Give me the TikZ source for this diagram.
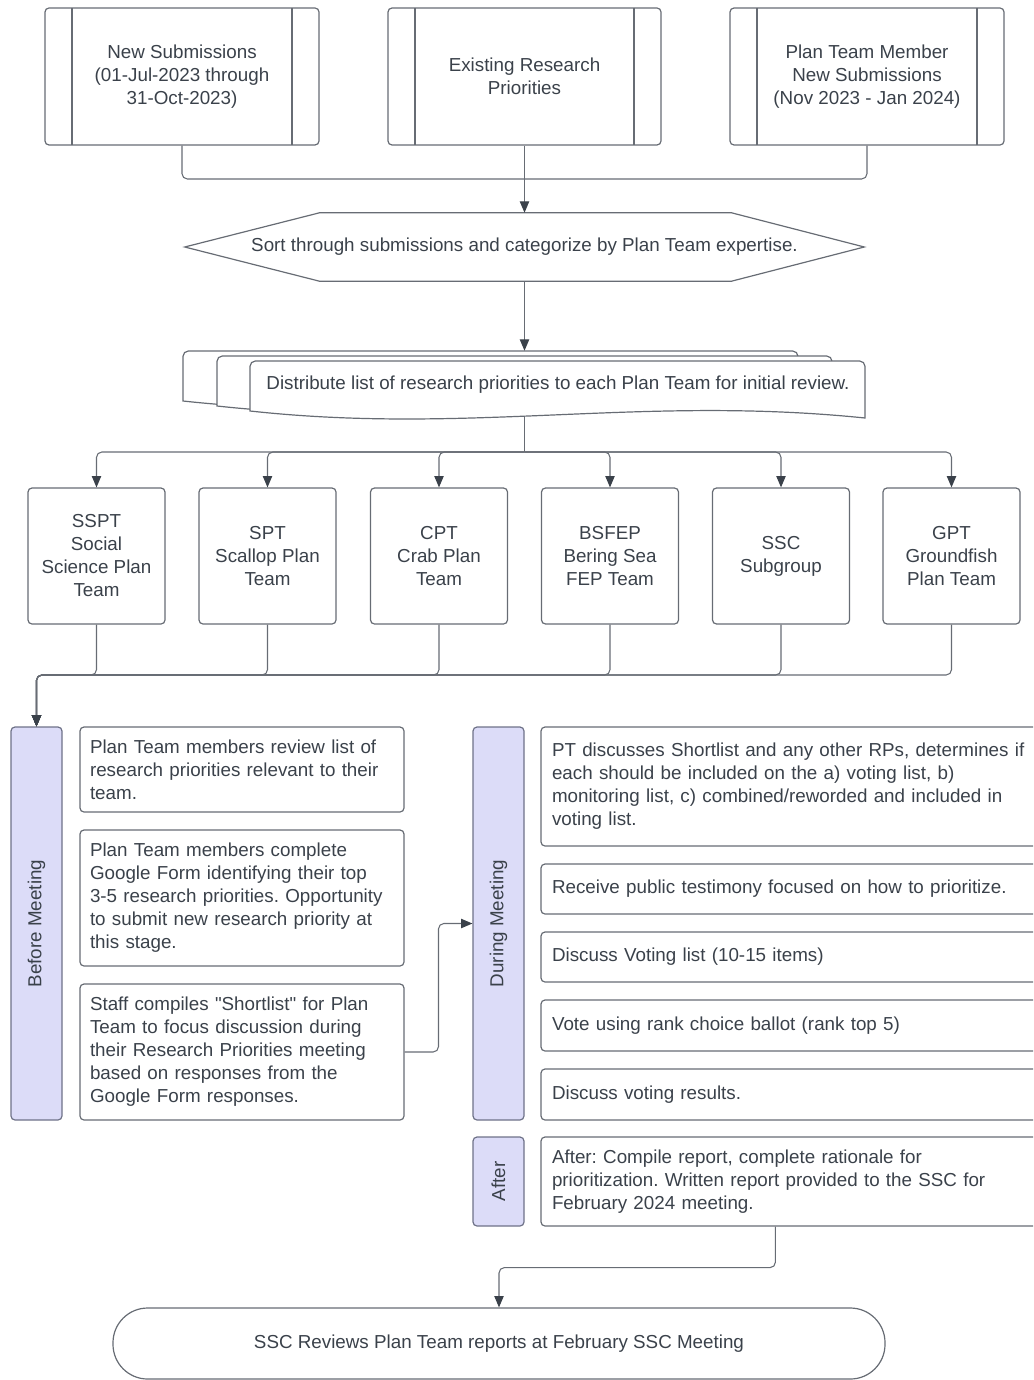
\documentclass[tikz,border=0pt]{standalone}
\usepackage{fontspec}
\setmainfont{Liberation Sans}
\usetikzlibrary{arrows.meta,calc}
\frenchspacing

\definecolor{inkcol}{HTML}{3A414A}
\definecolor{edgecol}{HTML}{676C74}
\definecolor{lavender}{HTML}{DCDCF8}
\definecolor{laveredge}{HTML}{6E7288}

\tikzset{
  every node/.style={font=\fontsize{14.1}{17.25}\selectfont, text=inkcol},
  shapeline/.style={draw=edgecol, line width=0.9pt},
  srcbox/.style={shapeline, rounded corners=3pt, minimum width=205.5pt,
    minimum height=102.75pt, align=center,
    path picture={\draw[edgecol, line width=0.9pt]
      ([xshift=20.25pt]path picture bounding box.north west) -- ([xshift=20.25pt]path picture bounding box.south west)
      ([xshift=-20.25pt]path picture bounding box.north east) -- ([xshift=-20.25pt]path picture bounding box.south east);}},
  teambox/.style={shapeline, rounded corners=3pt, minimum width=102.75pt,
    minimum height=102pt, align=center},
  leftnote/.style={shapeline, rounded corners=3pt, align=left,
    text width=228pt, inner xsep=7.5pt},
  rightnote/.style={shapeline, rounded corners=3pt, align=left,
    text width=361.5pt, inner xsep=8.25pt},
  phasebar/.style={draw=laveredge, line width=0.9pt, fill=lavender,
    rounded corners=3pt, minimum width=38.25pt},
  phaselabel/.style={rotate=90, text=inkcol},
  endcap/.style={shapeline, rounded corners=26pt, minimum width=579pt,
    minimum height=53.25pt},
  link/.style={draw=edgecol, line width=0.8pt, rounded corners=4pt},
  linkarrow/.style={link, -{Triangle[width=7pt,length=8.5pt,color=inkcol]}}
}

\begin{document}
\begin{tikzpicture}[x=0.75pt, y=-0.75pt]
  \useasboundingbox (0,0) rectangle (1033,1380);
  \clip (0,0) rectangle (1033,1380);

  % sources
  \node[srcbox] (newsub) at (182,76.5) {New Submissions\\(01-Jul-2023 through\\31-Oct-2023)};
  \node[srcbox, minimum width=204.75pt] (existing) at (524.5,76.5) {Existing Research\\Priorities};
  \node[srcbox] (ptnew) at (867,76.5) {Plan Team Member\\New Submissions\\(Nov 2023 - Jan 2024)};

  % sorting step
  \node[minimum width=509.25pt, minimum height=51pt] (sort) at (524.5,247)
    {Sort through submissions and categorize by Plan Team expertise.};
  \draw[shapeline] (sort.west) -- ($(sort.north west)+(135,0)$) -- ($(sort.north east)+(-133,0)$)
    -- (sort.east) -- ($(sort.south east)+(-133,0)$) -- ($(sort.south west)+(135,0)$) -- cycle;

  \coordinate (topmerge) at (524.5,179);
  \draw[link] (newsub.south) |- (topmerge);
  \draw[link] (ptnew.south) |- (topmerge);
  \draw[linkarrow] (existing.south) -- (sort.north);

  % stacked documents
  \foreach \dx/\dy in {0/0,34/5,67/10}
    \draw[shapeline, fill=white] ({183+\dx},{401+\dy}) [rounded corners=4pt] -- ({183+\dx},{351+\dy})
      -- ({798+\dx},{351+\dy}) -- ({798+\dx},{371+\dy}) [sharp corners] -- ({798+\dx},{408+\dy})
      .. controls ({573+\dx},{385+\dy}) and ({403+\dx},{425+\dy}) .. ({183+\dx},{401+\dy}) -- cycle;
  \node[minimum width=461.25pt, minimum height=37.5pt] (distback) at (490.5,376) {};
  \node[minimum width=462pt, minimum height=31.5pt] (dist) at (558,384.5)
    {Distribute list of research priorities to each Plan Team for initial review.};
  \draw[linkarrow] (sort.south) -- (sort.south |- distback.north);

  % plan teams
  \foreach \n/\x/\txt in {sspt/96.5/{SSPT\\Social\\Science Plan\\Team},
      spt/267.5/{SPT\\Scallop Plan\\Team}, cpt/439/{CPT\\Crab Plan\\Team},
      bsfep/610/{BSFEP\\Bering Sea\\FEP Team}, ssc/781/{SSC\\Subgroup},
      gpt/951.5/{GPT\\Groundfish\\Plan Team}}
    \node[teambox] (\n) at (\x,556) {\txt};

  \coordinate (split) at (524.5,452);
  \draw[link] ($(dist.south -| sort.south)+(0,11)$) -- (split);
  \foreach \n in {sspt,spt,cpt,bsfep,ssc,gpt}
    \draw[linkarrow] (split) -| (\n.north);

  % phases
  \node[phasebar, minimum height=294.75pt, label={[phaselabel]center:Before Meeting}] (before) at (36.5,923.5) {};
  \node[phasebar, minimum height=294.75pt, label={[phaselabel]center:During Meeting}] (during) at (498.5,923.5) {};
  \node[phasebar, minimum height=66.75pt, label={[phaselabel]center:After}] (afterbar) at (498.5,1181.5) {};

  \coordinate (join) at (36.5,675);
  \foreach \n in {sspt,spt,cpt,bsfep,ssc,gpt}
    \draw[linkarrow] (\n.south) |- (join) -- (before.north);

  % before meeting
  \node[leftnote, minimum height=63.75pt] (pre1) at (242,769.5)
    {Plan Team members review list of\\research priorities relevant to their\\team.};
  \node[leftnote, minimum height=102pt] (pre2) at (242,898)
    {Plan Team members complete\\Google Form identifying their top\\3-5 research priorities. Opportunity\\to submit new research priority at\\this stage.};
  \node[leftnote, minimum height=102pt] (pre3) at (242,1052)
    {Staff compiles \textquotedbl Shortlist\textquotedbl{} for Plan\\Team to focus discussion during\\their Research Priorities meeting\\based on responses from the\\Google Form responses.};

  % during meeting
  \node[rightnote, minimum height=89.25pt] (mtg1) at (793,786.5)
    {PT discusses Shortlist and any other RPs, determines if\\each should be included on the a) voting list, b)\\monitoring list, c) combined/reworded and included in\\voting list.};
  \node[rightnote, minimum height=37.5pt] (mtg2) at (793,889) {Receive public testimony focused on how to prioritize.};
  \node[rightnote, minimum height=37.5pt] (mtg3) at (793,957) {Discuss Voting list (10-15 items)};
  \node[rightnote, minimum height=38.25pt] (mtg4) at (793,1025.5) {Vote using rank choice ballot (rank top 5)};
  \node[rightnote, minimum height=38.25pt] (mtg5) at (793,1094.5) {Discuss voting results.};

  % after
  \node[rightnote, minimum height=66.75pt] (post) at (793,1181.5)
    {After: Compile report, complete rationale for\\prioritization. Written report provided to the SSC for\\February 2024 meeting.};

  \node[endcap] (review) at (499,1343.5) {SSC Reviews Plan Team reports at February SSC Meeting};

  \draw[linkarrow] (pre3.east) -| ($(pre3.east)!0.5!(during.west)$) |- (during.west);
  \draw[linkarrow] ($(post.south west)+(235,0)$) -- ++(0,41) -| (review.north);
\end{tikzpicture}
\end{document}
